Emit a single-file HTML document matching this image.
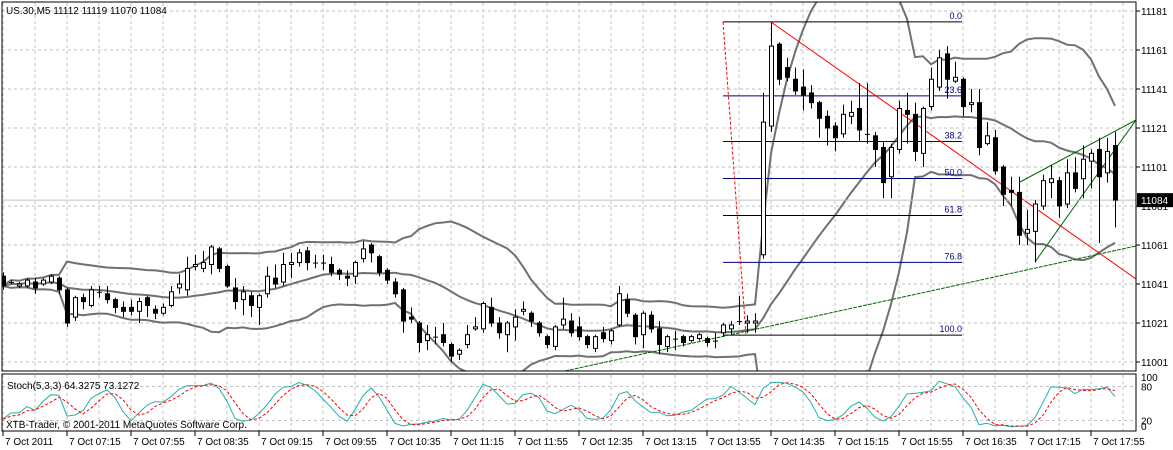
<!DOCTYPE html>
<html><head><meta charset="utf-8"><style>
html,body{margin:0;padding:0;background:#fff;width:1173px;height:450px;overflow:hidden;}
svg{display:block;font-family:"Liberation Sans",sans-serif;}
</style></head><body>
<svg id="chart" width="1173" height="450" viewBox="0 0 1173 450" xmlns="http://www.w3.org/2000/svg">
<defs>
<clipPath id="mainClip"><rect x="2" y="2" width="1134" height="369"/></clipPath>
<clipPath id="stochClip"><rect x="2" y="374" width="1134" height="57"/></clipPath>
</defs>
<rect x="0" y="0" width="1173" height="450" fill="#fff"/>
<g id="grid"></g>
<g id="main" clip-path="url(#mainClip)"></g>
<g id="stoch" clip-path="url(#stochClip)"></g>
<g id="axes"></g>
<rect x="2" y="2" width="1134" height="369" fill="none" stroke="#000" stroke-width="1"/>
<rect x="2" y="374" width="1134" height="57" fill="none" stroke="#000" stroke-width="1"/>
<text x="6" y="14" font-size="10" fill="#000">US.30,M5  11112 11119 11070 11084</text>
<text x="7" y="389" font-size="10" fill="#000">Stoch(5,3,3) 64.3275 73.1272</text>
<text x="6" y="428" font-size="10" fill="#000">XTB-Trader, © 2001-2011 MetaQuotes Software Corp.</text>
</svg>
<script>
const openP=[11045,11042,11040,11040,11042,11041,11042,11044,11038,11024,
11034,11030,11037,11036,11033,11029,11029,11027,11034,11028,
11026,11030,11039,11038,11050,11049,11051,11059,11050,11039,
11033,11035,11029,11036,11044,11042,11051,11052,11058,11052,
11052,11051,11048,11045,11045,11054,11061,11055,11048,11042,
11038,11024,11021,11012,11014,11015,11010,11005,11010,11018,
11018,11029,11021,11015,11019,11027,11026,11021,11014,11009,
11020,11022,11019,11014,11008,11016,11012,11020,11033,11025,
11015,11025,11018,11009,11013,11014,11012,11013,11013,11012,
11016,11018,11022,11021,11021,11056,11122,11164,11152,11146,
11142,11139,11134,11127,11122,11118,11127,11131,11118,11117,
11111,11096,11110,11130,11128,11108,11132,11142,11159,11145,
11146,11133,11134,11113,11116,11101,11089,11088,11067,11068,
11081,11093,11094,11082,11098,11095,11104,11110,11098,11112];
const highP=[11047,11043,11042,11044,11044,11044,11046,11045,11039,11035,
11036,11040,11040,11040,11034,11032,11033,11034,11035,11030,
11031,11040,11046,11055,11056,11058,11061,11060,11051,11044,
11040,11037,11036,11050,11051,11057,11057,11059,11060,11056,
11056,11055,11049,11048,11053,11063,11062,11056,11049,11044,
11039,11029,11022,11020,11019,11021,11011,11008,11020,11024,
11032,11034,11024,11022,11028,11032,11027,11022,11015,11020,
11034,11026,11024,11015,11015,11019,11018,11040,11036,11026,
11027,11027,11022,11015,11017,11015,11015,11016,11014,11016,
11021,11022,11035,11025,11026,11139,11175,11165,11157,11152,
11151,11143,11135,11130,11124,11133,11135,11144,11144,11119,
11114,11113,11135,11139,11134,11132,11152,11161,11163,11155,
11147,11141,11141,11124,11120,11102,11096,11096,11079,11084,
11097,11102,11096,11105,11106,11112,11110,11116,11116,11119];
const lowP=[11038,11041,11039,11039,11036,11040,11041,11036,11019,11022,
11028,11029,11034,11031,11026,11024,11025,11021,11024,11023,
11025,11029,11036,11035,11048,11047,11046,11047,11039,11028,
11025,11024,11020,11034,11039,11040,11044,11050,11048,11049,
11048,11045,11043,11040,11041,11052,11052,11045,11041,11034,
11016,11021,11006,11007,11010,11009,11001,11002,11008,11017,
11016,11019,11013,11006,11012,11025,11019,11014,11008,11007,
11018,11014,11012,11008,11006,11011,11010,11019,11024,11010,
11008,11016,11005,11006,11007,11009,11011,11012,11009,11008,
11014,11015,11020,11016,11016,11054,11119,11143,11145,11138,
11130,11131,11116,11112,11109,11116,11123,11114,11113,11101,
11085,11085,11108,11113,11104,11101,11130,11140,11136,11144,
11127,11129,11107,11112,11097,11081,11081,11061,11061,11052,
11079,11085,11075,11080,11088,11085,11090,11062,11093,11070];
const closeP=[11040,11042,11041,11043,11039,11043,11045,11038,11021,11034,
11032,11038,11037,11033,11029,11027,11027,11032,11030,11026,
11029,11037,11041,11049,11051,11052,11060,11049,11040,11032,
11037,11030,11035,11045,11041,11051,11052,11057,11052,11052,
11052,11047,11046,11044,11052,11059,11057,11047,11043,11036,
11022,11023,11011,11015,11014,11011,11004,11007,11015,11019,
11031,11021,11016,11021,11024,11028,11022,11016,11010,11019,
11023,11016,11014,11010,11014,11013,11017,11036,11026,11014,
11026,11018,11010,11014,11013,11011,11014,11015,11011,11012,
11020,11020,11022,11022,11022,11124,11163,11146,11147,11140,
11138,11134,11126,11121,11116,11128,11129,11120,11118,11110,
11093,11111,11131,11128,11109,11131,11146,11157,11146,11147,
11132,11134,11111,11117,11099,11087,11088,11066,11069,11082,
11094,11095,11081,11098,11090,11105,11108,11096,11109,11084];
const priceTicks=[11181,11161,11141,11121,11101,11081,11061,11041,11021,11001];
const timeLabels=["7 Oct 2011","7 Oct 07:15","7 Oct 07:55","7 Oct 08:35","7 Oct 09:15","7 Oct 09:55","7 Oct 10:35","7 Oct 11:15","7 Oct 11:55","7 Oct 12:35","7 Oct 13:15","7 Oct 13:55","7 Oct 14:35","7 Oct 15:15","7 Oct 15:55","7 Oct 16:35","7 Oct 17:15","7 Oct 17:55"];
const fibLevels=[0,23.6,38.2,50,61.8,76.8,100];
const fibLabels=["0.0","23.6","38.2","50.0","61.8","76.8","100.0"];
const fibHigh=11175.4, fibLow=11014.8;
const stochLevels=[100,80,20,0];
const lastPrice=11084;

const NS="http://www.w3.org/2000/svg";
const xOf=i=>3+8*i;
const yOf=p=>11+(11181-p)*1.95;
const ySt=s=>431.8-0.567*s;
function mk(tag,attrs,parent){const e=document.createElementNS(NS,tag);for(const k in attrs)e.setAttribute(k,attrs[k]);parent.appendChild(e);return e;}
const grid=document.getElementById('grid'),main=document.getElementById('main'),st=document.getElementById('stoch'),axes=document.getElementById('axes');

for(let x=3;x<1136;x+=32){
 let l=mk('line',{x1:x,y1:3,x2:x,y2:371,stroke:'#c0c0c0','stroke-dasharray':'3,3'},grid);
 
 
 let l2=mk('line',{x1:x,y1:375,x2:x,y2:431,stroke:'#c0c0c0','stroke-dasharray':'3,3'},grid);
 
 
}
priceTicks.forEach(p=>{
 let l=mk('line',{x1:2,y1:yOf(p),x2:1136,y2:yOf(p),stroke:'#c0c0c0','stroke-dasharray':'3,3'},grid);
 
 
 let t=mk('line',{x1:1136,y1:yOf(p),x2:1140,y2:yOf(p),stroke:'#000'},axes);
 
 
 let tx=mk('text',{x:1141,y:yOf(p)+4,'font-size':'10',fill:'#000'},axes);tx.textContent=p;
 
 
});
[80,20].forEach(s=>{
 let l=mk('line',{x1:2,y1:ySt(s),x2:1136,y2:ySt(s),stroke:'#c0c0c0','stroke-dasharray':'3,3'},grid);
 
 
});
stochLevels.forEach((s,i)=>{
 let tx=mk('text',{x:1141,y:ySt(s)+(s==100?6:s==0?-2:4),'font-size':'10',fill:'#000'},axes);tx.textContent=s;
 
 
});
timeLabels.forEach((t,j)=>{
 const x=3+64*j;
 let tk=mk('line',{x1:x,y1:431,x2:x,y2:436,stroke:'#000'},axes);
 
 
 let tx=mk('text',{x:x+2,y:445,'font-size':'10',fill:'#000'},axes);tx.textContent=t;
 
 
});

const N=closeP.length;
const up=[],mid=[],lo=[];
for(let i=0;i<N;i++){
 const s=Math.max(0,i-19);const w=closeP.slice(s,i+1);
 const m=w.reduce((a,b)=>a+b,0)/w.length;
 const sd=Math.sqrt(w.reduce((a,b)=>a+(b-m)*(b-m),0)/w.length);
 mid.push(m);up.push(m+2*sd);lo.push(m-2*sd);
}
[[up,'bb-upper'],[mid,'bb-middle'],[lo,'bb-lower']].forEach(([arr,name])=>{
 const d=arr.map((v,i)=>(i?'L':'M')+xOf(i)+','+yOf(v).toFixed(1)).join(' ');
 let p=mk('path',{d:d,fill:'none',stroke:'#707070','stroke-width':'2'},main);
 
 
});

fibLevels.forEach((lv,i)=>{
 const p=fibHigh-(fibHigh-fibLow)*lv/100;const y=yOf(p);
 let l=mk('line',{x1:723,y1:y,x2:962,y2:y,stroke:(lv==0||lv==61.8||lv==100)?'#000':'#000080'},main);
 
 
 let t=mk('text',{x:962,y:y-3,'font-size':'9','text-anchor':'end',fill:'#000080'},main);t.textContent=fibLabels[i];
 
 
});
let fb=mk('line',{x1:723,y1:yOf(fibHigh),x2:746,y2:yOf(fibLow),stroke:'#ff0000','stroke-dasharray':'3,2'},main);



let tr=mk('line',{x1:771,y1:22,x2:1136,y2:279,stroke:'#ff0000'},main);


let tg=mk('line',{x1:565,y1:371,x2:1136,y2:246,stroke:'#006400','stroke-dasharray':'4,1'},main);


let w1=mk('line',{x1:1020,y1:182,x2:1136,y2:120,stroke:'#006400'},main);


let w2=mk('line',{x1:1035,y1:262,x2:1136,y2:120,stroke:'#006400'},main);



let cp=mk('line',{x1:2,y1:yOf(lastPrice),x2:1136,y2:yOf(lastPrice),stroke:'#c0c0c0'},main);



for(let i=0;i<N;i++){
 const x=xOf(i),o=openP[i],c=closeP[i];
 let g=mk('g',{},main);
 
 
 mk('line',{x1:x+0.5,y1:yOf(highP[i]),x2:x+0.5,y2:yOf(lowP[i]),stroke:'#000'},g);
 const yt=yOf(Math.max(o,c)),yb=yOf(Math.min(o,c));
 if(yb-yt<1.5){mk('line',{x1:x-2,y1:yt+0.5,x2:x+3,y2:yt+0.5,stroke:'#000'},g);}
 else mk('rect',{x:x-1.5,y:yt,width:4,height:yb-yt,fill:c<o?'#000':'#fff',stroke:'#000'},g);
}

let pb=mk('rect',{x:1137,y:yOf(lastPrice)-7,width:36,height:14,fill:'#000'},axes);


let pt=mk('text',{x:1141,y:yOf(lastPrice)+4,'font-size':'10',fill:'#fff'},axes);pt.textContent=lastPrice;



const K=[],D=[];
const num=[],den=[];
for(let i=0;i<N;i++){
 const s=Math.max(0,i-4);let hh=-1e9,ll=1e9;
 for(let j=s;j<=i;j++){hh=Math.max(hh,highP[j]);ll=Math.min(ll,lowP[j]);}
 num.push(closeP[i]-ll);den.push(hh-ll);
}
for(let i=0;i<N;i++){
 const s=Math.max(0,i-2);let a=0,b=0;for(let j=s;j<=i;j++){a+=num[j];b+=den[j];}
 K.push(b?100*a/b:50);
}
for(let i=0;i<N;i++){const s=Math.max(0,i-2);const w=K.slice(s,i+1);D.push(w.reduce((a,b)=>a+b,0)/w.length);}
let kp=mk('path',{d:K.map((v,i)=>(i?'L':'M')+xOf(i)+','+ySt(v).toFixed(1)).join(' '),fill:'none',stroke:'#20b2aa','stroke-width':'1'},st);


let dp=mk('path',{d:D.map((v,i)=>(i?'L':'M')+xOf(i)+','+ySt(v).toFixed(1)).join(' '),fill:'none',stroke:'#ff0000','stroke-width':'1','stroke-dasharray':'3,2'},st);


</script>
</body></html>
